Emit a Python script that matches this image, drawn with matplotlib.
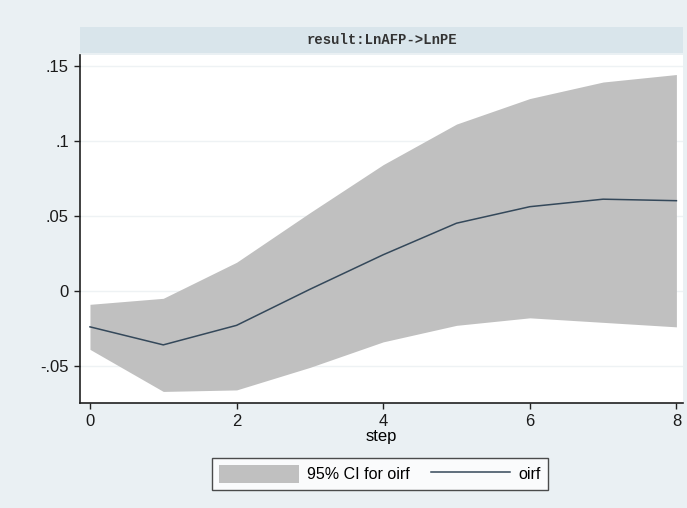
import numpy as np
import matplotlib.pyplot as plt
from matplotlib.patches import Rectangle, Patch
from matplotlib.lines import Line2D

# data
steps = [0, 1, 2, 3, 4, 5, 6, 7, 8]
oirf = [-0.024, -0.036, -0.023, 0.001, 0.024, 0.045, 0.056, 0.061, 0.060]
ci_upper = [-0.009, -0.005, 0.019, 0.052, 0.084, 0.111, 0.128, 0.139, 0.144]
ci_lower = [-0.039, -0.067, -0.066, -0.051, -0.034, -0.023, -0.018, -0.021, -0.024]
yticks = [-0.05, 0, 0.05, 0.1, 0.15]
ytick_labels = ['-.05', '0', '.05', '.1', '.15']
xticks = [0, 2, 4, 6, 8]
title = 'result:LnAFP->LnPE'

bg = '#eaf0f3'
fig = plt.figure(figsize=(6.87, 5.08), dpi=100, facecolor=bg)
ax = fig.add_axes([80/687, 1-403/508, 603/687, 348/508])
ax.set_facecolor('white')

ax.fill_between(steps, ci_lower, ci_upper, color='#c0c0c0', linewidth=0, zorder=2)
ax.plot(steps, oirf, color='#34485a', linewidth=1.1, zorder=3)

ax.set_xlim(-0.136, 8.09)
ax.set_ylim(-0.0747, 0.157)
ax.set_yticks(yticks)
ax.set_yticklabels(ytick_labels)
ax.set_xticks(xticks)
ax.grid(axis='y', color='#eef2f4', linewidth=1, zorder=1)
ax.grid(axis='x', visible=False)

for s in ['top', 'right']:
    ax.spines[s].set_visible(False)
for s in ['left', 'bottom']:
    ax.spines[s].set_color('#202020')
    ax.spines[s].set_linewidth(1.2)

ax.tick_params(axis='both', colors='#202020', labelsize=12, length=4, width=1,
               labelcolor='#1a1a1a', pad=4)
for lab in ax.get_xticklabels() + ax.get_yticklabels():
    lab.set_family('Liberation Sans')
ax.set_xlabel('step', fontsize=12, family='Liberation Sans', labelpad=0)

# title strip
fig.patches.append(Rectangle((80/687, 1-53/508), 603/687, 26/508,
                             transform=fig.transFigure, facecolor='#d9e5eb',
                             edgecolor='none', zorder=0))
fig.text((80+683)/2/687, 1-40/508, title, ha='center', va='center',
         fontsize=10, family='Liberation Mono', weight='bold', color='#333333')

# legend
handles = [Patch(facecolor='#c0c0c0', edgecolor='none'),
           Line2D([0], [0], color='#34485a', linewidth=1.1)]
leg = fig.legend(handles, ['95% CI for oirf', 'oirf'], loc='center',
                 bbox_to_anchor=(380/687, 1-474/508), ncol=2, frameon=True,
                 fancybox=False, edgecolor='#202020',
                 prop={'family': 'Liberation Sans', 'size': 11.5},
                 handlelength=5.0, handleheight=1.4, handletextpad=0.5,
                 columnspacing=1.3, borderpad=0.45, borderaxespad=0)
leg.get_frame().set_linewidth(1.0)

fig.savefig('out.png', dpi=100, facecolor=bg)
